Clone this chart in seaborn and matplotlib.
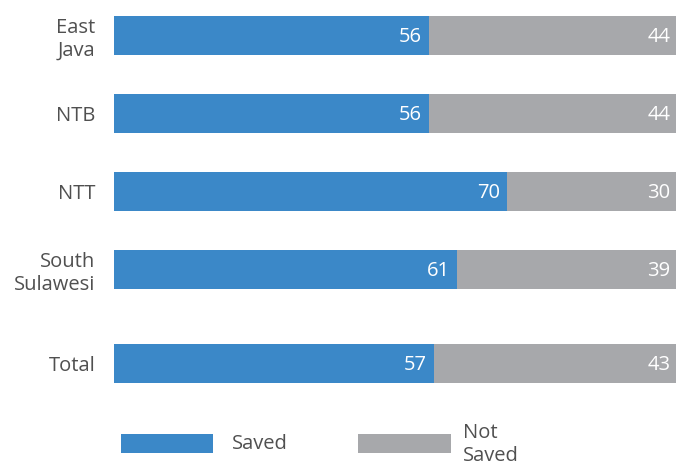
import pandas as pd
import seaborn as sns
import matplotlib.pyplot as plt
from matplotlib.patches import Rectangle

# data
regions = ["East\nJava", "NTB", "NTT", "South\nSulawesi", "Total"]
positions = [0, 1, 2, 3, 4.2]
saved = [56, 56, 70, 61, 57]
not_saved = [44, 44, 30, 39, 43]

blue = "#3b88c8"
grey = "#a7a8ab"
txt = "#505050"

sns.set_style("white")
plt.rcParams["font.family"] = ["Open Sans", "DejaVu Sans"]

df = pd.DataFrame({"pos": positions, "saved": saved,
                   "total": [a + b for a, b in zip(saved, not_saved)]})

fig = plt.figure(figsize=(6.76, 4.63), dpi=100)
ax = fig.add_axes([114 / 676, 1 - 400 / 463, 1 - 114 / 676, 400 / 463])

# grey full bar underneath, blue saved part on top
sns.barplot(data=df, x="total", y="pos", orient="h", native_scale=True,
            color=grey, saturation=1, width=0.5, errorbar=None,
            linewidth=0, ax=ax)
sns.barplot(data=df, x="saved", y="pos", orient="h", native_scale=True,
            color=blue, saturation=1, width=0.5, errorbar=None,
            linewidth=0, ax=ax)

ax.set_xlim(0, 100)
ax.set_ylim((400 - 35.5) / 78, -35.5 / 78)
ax.set_yticks(positions)
ax.set_yticklabels(regions, fontsize=14.5, color=txt, linespacing=1.2)
ax.tick_params(axis="y", length=0, pad=13.5)
ax.set_xticks([])
ax.set_xlabel("")
ax.set_ylabel("")
for s in ax.spines.values():
    s.set_visible(False)

for p, s, n in zip(positions, saved, not_saved):
    ax.text(s - 1.3, p + 0.02, str(s), ha="right", va="center",
            color="white", fontsize=14.5)
    ax.text(s + n - 1.0, p + 0.02, str(n), ha="right", va="center",
            color="white", fontsize=14.5)

# legend drawn by hand (second label runs off the bottom)
W, H = 676, 463
fig.add_artist(Rectangle((121 / W, 1 - 453 / H), 92 / W, 19 / H,
                         transform=fig.transFigure, color=blue, lw=0))
fig.add_artist(Rectangle((358 / W, 1 - 453 / H), 93 / W, 19 / H,
                         transform=fig.transFigure, color=grey, lw=0))
fig.text(232 / W, 1 - 444 / H, "Saved", fontsize=14.5, color=txt,
         va="center", ha="left")
fig.text(463 / W, 1 - 423 / H, "Not\nSaved", fontsize=14.5, color=txt,
         va="top", ha="left", linespacing=1.2)

fig.savefig("out.png", dpi=100)
